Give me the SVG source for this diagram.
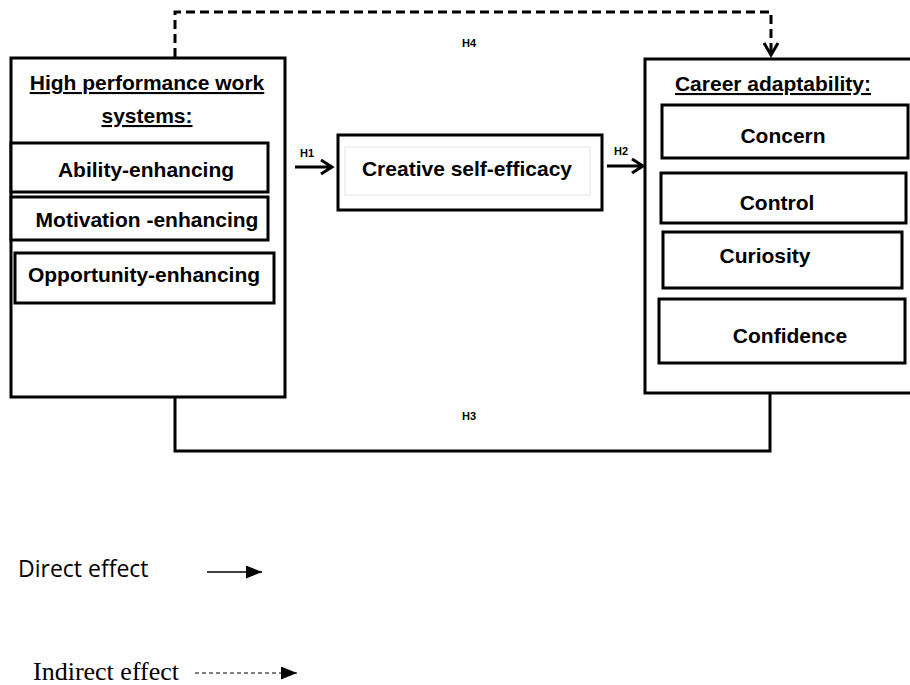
<svg xmlns="http://www.w3.org/2000/svg" width="910" height="685" viewBox="0 0 910 685">
<defs>
<style>
.box{fill:#fff;stroke:#000;stroke-width:3}
.sub{fill:#fff;stroke:#000;stroke-width:3}
.b{font-family:"Liberation Sans",Arial,sans-serif;font-weight:bold;font-size:21px;fill:#000;text-anchor:middle}
.h{font-family:"Liberation Sans",Arial,sans-serif;font-weight:bold;font-size:11px;fill:#000}
.line{fill:none;stroke:#000;stroke-width:3}
.dash{fill:none;stroke:#000;stroke-width:3;stroke-dasharray:9 5}
</style>
<marker id="tri" viewBox="0 0 10 10" refX="10" refY="5" markerWidth="16" markerHeight="13" markerUnits="userSpaceOnUse" orient="auto" preserveAspectRatio="none">
<path d="M0,0 L10,5 L0,10 Z" fill="#000"/>
</marker>
</defs>
<rect width="910" height="685" fill="#fff"/>

<g id="connectors">
<path class="dash" d="M175,57 V12 H771 V53"/>
<path class="line" d="M764,43 L771,55 L778,43"/>
<path class="line" d="M175,398 V451 H770 V393"/>
<path class="line" d="M295,167 H331 M321,160 L332,167 L321,174"/>
<path class="line" d="M607,166 H642 M632,159 L643,166 L632,173"/>
<text class="h" x="462" y="47">H4</text>
<text class="h" x="462" y="420">H3</text>
<text class="h" x="300" y="157">H1</text>
<text class="h" x="614" y="155">H2</text>
</g>

<g id="hpws">
<rect class="box" x="11" y="58" width="274" height="339"/>
<text class="b" x="147" y="90" text-decoration="underline">High performance work</text>
<text class="b" x="147" y="123" text-decoration="underline">systems:</text>
</g>
<g id="ability">
<rect class="sub" x="11" y="143" width="257" height="49"/>
<text class="b" x="146" y="177">Ability-enhancing</text>
</g>
<g id="motivation">
<rect class="sub" x="11" y="197" width="257" height="43"/>
<text class="b" x="147" y="227">Motivation -enhancing</text>
</g>
<g id="opportunity">
<rect class="sub" x="15" y="253" width="259" height="50"/>
<text class="b" x="144" y="282">Opportunity-enhancing</text>
</g>

<g id="cse">
<rect class="box" x="338" y="135" width="264" height="75"/>
<rect x="345" y="147" width="245" height="48" fill="none" stroke="#e4e4e0" stroke-width="1"/>
<text class="b" x="467" y="176">Creative self-efficacy</text>
</g>

<g id="career">
<rect class="box" x="645" y="59" width="270" height="334" stroke-width="4"/>
<text class="b" x="773" y="91" text-decoration="underline">Career adaptability:</text>
</g>
<g id="concern">
<rect class="sub" x="662" y="105" width="246" height="53"/>
<text class="b" x="783" y="143">Concern</text>
</g>
<g id="control">
<rect class="sub" x="661" y="173" width="245" height="50"/>
<text class="b" x="777" y="210">Control</text>
</g>
<g id="curiosity">
<rect class="sub" x="663" y="232" width="239" height="56"/>
<text class="b" x="765" y="263">Curiosity</text>
</g>
<g id="confidence">
<rect class="sub" x="659" y="299" width="246" height="64"/>
<text class="b" x="790" y="343">Confidence</text>
</g>

<g id="legend">
<text x="18" y="577" font-family="'Open Sans',sans-serif" font-size="23" fill="#000">Direct effect</text>
<line x1="207" y1="572" x2="262" y2="572" stroke="#000" stroke-width="1.5" marker-end="url(#tri)"/>
<text x="33" y="680" font-family="'Liberation Serif','Times New Roman',serif" font-size="26" fill="#000">Indirect effect</text>
<line x1="195" y1="673" x2="297" y2="673" stroke="#000" stroke-width="1.2" stroke-dasharray="4 3" marker-end="url(#tri)"/>
</g>
</svg>
